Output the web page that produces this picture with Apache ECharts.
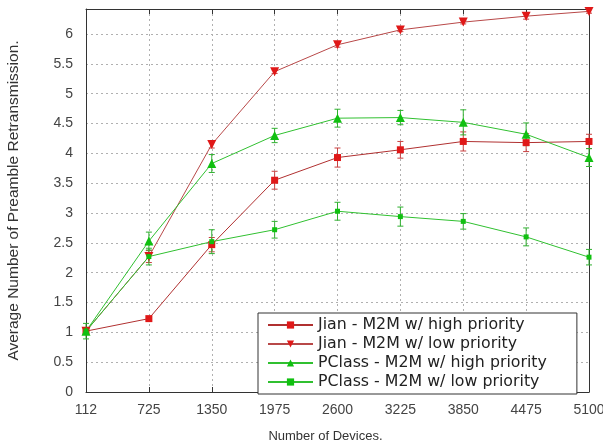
<!DOCTYPE html>
<html>
<head>
<meta charset="utf-8">
<script src="https://cdn.jsdelivr.net/npm/echarts@6/dist/echarts.min.js"></script>
<style>
html, body { margin: 0; padding: 0; background: #fff; }
#box { width: 603px; height: 447px; }
</style>
</head>
<body>
<div id="box"></div>
<script>
// x 轴类别 (设备数)
var devices = ['112', '725', '1350', '1975', '2600', '3225', '3850', '4475', '5100'];
var yTicks = [0, 0.5, 1, 1.5, 2, 2.5, 3, 3.5, 4, 4.5, 5, 5.5, 6];

// 各曲线均值
var jianHigh = [1.02, 1.23, 2.47, 3.55, 3.93, 4.06, 4.20, 4.18, 4.20];
var jianLow = [1.02, 2.27, 4.15, 5.37, 5.82, 6.07, 6.20, 6.30, 6.38];
var pclassHigh = [1.02, 2.53, 3.83, 4.30, 4.59, 4.60, 4.52, 4.32, 3.93];
var pclassLow = [1.02, 2.27, 2.52, 2.72, 3.03, 2.94, 2.86, 2.60, 2.26];

// 误差棒半宽
var jianHighErr = [0.05, 0.03, 0.12, 0.15, 0.16, 0.14, 0.16, 0.15, 0.12];
var jianLowErr = [0.03, 0.10, 0.06, 0.03, 0.04, 0.03, 0.03, 0.05, 0.03];
var pclassHighErr = [0.05, 0.15, 0.15, 0.12, 0.15, 0.12, 0.21, 0.19, 0.15];
var pclassLowErr = [0.13, 0.14, 0.20, 0.14, 0.15, 0.16, 0.13, 0.15, 0.13];

var names = [
	'Jian - M2M w/ high priority',
	'Jian - M2M w/ low priority',
	'PClass - M2M w/ high priority',
	'PClass - M2M w/ low priority'
];

var myChart = echarts.init(document.getElementById('box'));

function errData(vals, errs) {
	return vals.map(function(v, i) { return [i, v - errs[i], v + errs[i]]; });
}

function errSeries(vals, errs, color) {
	return {
		type: 'custom',
		name: 'err',
		silent: true,
		z: 1,
		data: errData(vals, errs),
		renderItem: function(params, api) {
			var lo = api.coord([api.value(0), api.value(1)]);
			var hi = api.coord([api.value(0), api.value(2)]);
			var w = 3;
			var st = { stroke: color, lineWidth: 1 };
			return {
				type: 'group',
				children: [
					{ type: 'line', shape: { x1: lo[0], y1: lo[1], x2: hi[0], y2: hi[1] }, style: st },
					{ type: 'line', shape: { x1: lo[0] - w, y1: lo[1], x2: lo[0] + w, y2: lo[1] }, style: st },
					{ type: 'line', shape: { x1: hi[0] - w, y1: hi[1], x2: hi[0] + w, y2: hi[1] }, style: st }
				]
			};
		}
	};
}

function lineSeries(name, vals, lineColor, markColor, symbol, size, rotate) {
	return {
		name: name,
		type: 'line',
		data: vals,
		symbol: symbol,
		symbolSize: size,
		symbolRotate: rotate || 0,
		showAllSymbol: true,
		z: 3,
		lineStyle: { color: lineColor, width: 1 },
		itemStyle: { color: markColor },
		emphasis: { disabled: true }
	};
}

var tickStyle = { inside: true, length: 5, lineStyle: { color: '#333' } };
var gridLine = { show: true, lineStyle: { color: '#b0b0b0', type: [2, 3], width: 1 } };
var labelFont = { fontFamily: 'Liberation Sans', fontSize: 14, color: '#444' };

var option = {
	animation: false,
	grid: { left: 86, right: 14, top: 9, bottom: 55, outerBoundsMode: 'none', containLabel: false },
	legend: {
		data: names,
		orient: 'vertical',
		left: 258,
		top: 313,
		padding: [4, 30, 4, 9],
		itemWidth: 45,
		itemHeight: 9,
		itemGap: 3,
		borderColor: '#333',
		borderWidth: 1,
		backgroundColor: '#fff',
		textStyle: { fontFamily: 'DejaVu Sans', fontSize: 15.8, lineHeight: 14, color: '#222' }
	},
	xAxis: [{
		type: 'category',
		data: devices,
		boundaryGap: false,
		name: 'Number of Devices.',
		nameLocation: 'middle',
		nameGap: 38,
		nameTextStyle: { fontFamily: 'Liberation Sans', fontSize: 13, color: '#333', padding: [0, 24, 0, 0] },
		axisLine: { lineStyle: { color: '#333' } },
		axisTick: tickStyle,
		axisLabel: Object.assign({ margin: 11 }, labelFont),
		splitLine: gridLine
	}, {
		type: 'category',
		data: devices,
		boundaryGap: false,
		position: 'top',
		axisLine: { show: true, onZero: false, lineStyle: { color: '#333' } },
		axisTick: tickStyle,
		axisLabel: { show: false }
	}],
	yAxis: [{
		type: 'value',
		min: 0,
		max: 6.42,
		interval: 0.5,
		name: 'Average Number of Preamble Retransmission.',
		nameLocation: 'middle',
		nameGap: 64,
		nameTextStyle: { fontFamily: 'Liberation Sans', fontSize: 15.5, color: '#333' },
		axisLine: { show: true, lineStyle: { color: '#333' } },
		axisTick: tickStyle,
		axisLabel: Object.assign({
			margin: 13,
			showMaxLabel: false,
			formatter: function(v) { return yTicks.indexOf(v) >= 0 ? String(v) : ''; }
		}, labelFont),
		splitLine: gridLine
	}, {
		type: 'value',
		min: 0,
		max: 6.42,
		interval: 0.5,
		position: 'right',
		axisLine: { show: true, onZero: false, lineStyle: { color: '#333' } },
		axisTick: tickStyle,
		axisLabel: { show: false },
		splitLine: { show: false }
	}],
	series: [
		errSeries(jianHigh, jianHighErr, '#c84040'),
		errSeries(jianLow, jianLowErr, '#c84040'),
		errSeries(pclassHigh, pclassHighErr, '#30b030'),
		errSeries(pclassLow, pclassLowErr, '#30b030'),
		lineSeries(names[0], jianHigh, '#b03030', '#e01818', 'rect', 7),
		lineSeries(names[1], jianLow, '#b84848', '#e01818', 'triangle', 9, 180),
		lineSeries(names[2], pclassHigh, '#30c030', '#10c010', 'triangle', 9),
		lineSeries(names[3], pclassLow, '#30c030', '#10c010', 'rect', 5)
	]
};

myChart.setOption(option);
</script>
</body>
</html>
